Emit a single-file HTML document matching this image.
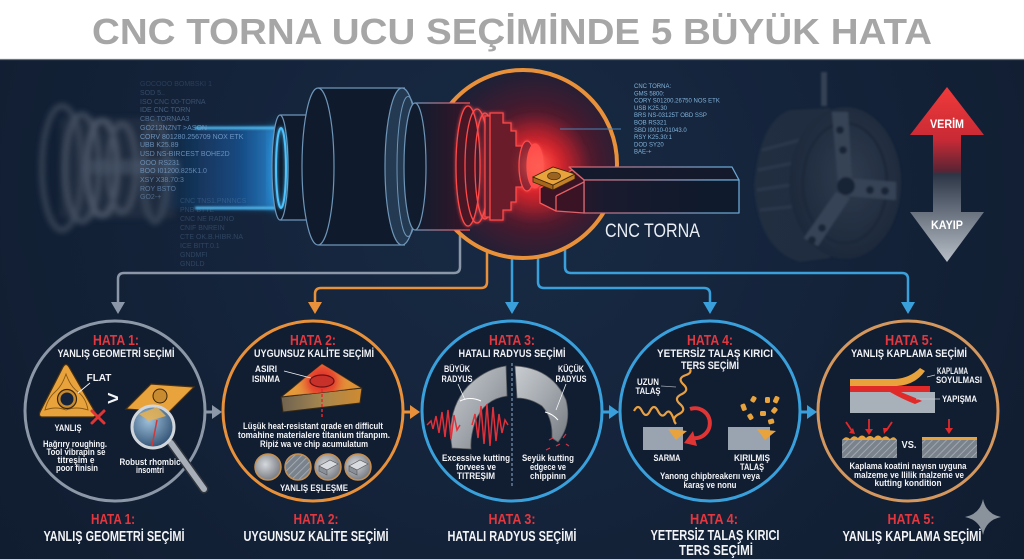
<!DOCTYPE html>
<html><head><meta charset="utf-8">
<style>
html,body{margin:0;padding:0;background:#fff;}
svg{display:block}
text{font-family:"Liberation Sans","DejaVu Sans",sans-serif;}
.b{font-weight:bold}
.m{font-family:"Liberation Mono","DejaVu Sans Mono",monospace;}
</style></head><body>
<svg width="1024" height="559" viewBox="0 0 1024 559" xmlns="http://www.w3.org/2000/svg">
<defs>
 <radialGradient id="bg" cx="512" cy="200" r="650" gradientUnits="userSpaceOnUse">
  <stop offset="0" stop-color="#182a44"/><stop offset="1" stop-color="#101c2f"/>
 </radialGradient>
 <radialGradient id="mainC" cx="535" cy="168" r="100" gradientUnits="userSpaceOnUse">
  <stop offset="0" stop-color="#ff3535"/><stop offset="0.22" stop-color="#b8202e"/>
  <stop offset="0.55" stop-color="#4c1a2e"/><stop offset="1" stop-color="#1d2036"/>
 </radialGradient>
 <filter id="bl1" x="-20%" y="-20%" width="140%" height="140%"><feGaussianBlur stdDeviation="1"/></filter>
 <filter id="bl3" x="-30%" y="-30%" width="160%" height="160%"><feGaussianBlur stdDeviation="3"/></filter>
 <filter id="bl8" x="-50%" y="-50%" width="200%" height="200%"><feGaussianBlur stdDeviation="8"/></filter>
 <filter id="bl15" x="-80%" y="-80%" width="260%" height="260%"><feGaussianBlur stdDeviation="15"/></filter>
 <filter id="glow" x="-30%" y="-30%" width="160%" height="160%"><feGaussianBlur stdDeviation="1.6" result="g"/><feMerge><feMergeNode in="g"/><feMergeNode in="SourceGraphic"/></feMerge></filter>
 <linearGradient id="beam" x1="160" y1="0" x2="290" y2="0" gradientUnits="userSpaceOnUse">
  <stop offset="0" stop-color="#1a8cff" stop-opacity="0"/><stop offset="0.6" stop-color="#1a8cff" stop-opacity="0.35"/><stop offset="1" stop-color="#3ab4ff" stop-opacity="0.8"/>
 </linearGradient>
 <linearGradient id="cyl2" x1="415" y1="0" x2="475" y2="0" gradientUnits="userSpaceOnUse">
  <stop offset="0" stop-color="#101c2e"/><stop offset="1" stop-color="#3a1527"/>
 </linearGradient>
 <linearGradient id="cyl2s" x1="415" y1="0" x2="470" y2="0" gradientUnits="userSpaceOnUse">
  <stop offset="0" stop-color="#6e95b8"/><stop offset="1" stop-color="#ff5050"/>
 </linearGradient>
 <linearGradient id="holdS" x1="540" y1="0" x2="720" y2="0" gradientUnits="userSpaceOnUse">
  <stop offset="0" stop-color="#ff5252"/><stop offset="0.35" stop-color="#c07080"/><stop offset="1" stop-color="#6aa6d2"/>
 </linearGradient>
 <linearGradient id="holdF" x1="540" y1="0" x2="700" y2="0" gradientUnits="userSpaceOnUse">
  <stop offset="0" stop-color="#3e1424"/><stop offset="0.4" stop-color="#1a1a2e"/><stop offset="1" stop-color="#0f1a2c"/>
 </linearGradient>
 <linearGradient id="arrowG" x1="0" y1="87" x2="0" y2="262" gradientUnits="userSpaceOnUse">
  <stop offset="0" stop-color="#f03a3a"/><stop offset="0.3" stop-color="#c82a35"/><stop offset="0.48" stop-color="#5a2434"/>
  <stop offset="0.5" stop-color="#2c3646"/><stop offset="1" stop-color="#b8bfc8"/>
 </linearGradient>
 <radialGradient id="chuckG" cx="0.55" cy="0.45" r="0.6">
  <stop offset="0" stop-color="#5b6370"/><stop offset="1" stop-color="#262e3a"/>
 </radialGradient>
 <linearGradient id="triTop" x1="0" y1="0" x2="1" y2="1">
  <stop offset="0" stop-color="#f0a845"/><stop offset="1" stop-color="#d88a30"/>
 </linearGradient>
 <radialGradient id="heat" cx="322" cy="381" r="30" gradientUnits="userSpaceOnUse">
  <stop offset="0" stop-color="#e0202a"/><stop offset="0.45" stop-color="#e65030"/><stop offset="1" stop-color="#e8a040" stop-opacity="0"/>
 </radialGradient>
 <linearGradient id="triFront" x1="281" y1="0" x2="362" y2="0" gradientUnits="userSpaceOnUse">
  <stop offset="0" stop-color="#6e6250"/><stop offset="0.5" stop-color="#a58650"/><stop offset="1" stop-color="#d08a30"/>
 </linearGradient>
 <linearGradient id="metal" x1="0" y1="0" x2="1" y2="1">
  <stop offset="0" stop-color="#c9cdd1"/><stop offset="0.5" stop-color="#a2a7ad"/><stop offset="1" stop-color="#767b82"/>
 </linearGradient>
 <radialGradient id="disc" cx="0.4" cy="0.4" r="0.7">
  <stop offset="0" stop-color="#d5d8dc"/><stop offset="1" stop-color="#6c7178"/>
 </radialGradient>
 <radialGradient id="lens" cx="0.4" cy="0.35" r="0.7">
  <stop offset="0" stop-color="#9ec0dc"/><stop offset="1" stop-color="#2c4d6e"/>
 </radialGradient>
 <pattern id="hatch" width="5" height="5" patternUnits="userSpaceOnUse" patternTransform="rotate(45)">
  <rect width="5" height="5" fill="#7a828c"/><line x1="0" y1="0" x2="0" y2="5" stroke="#aab1b9" stroke-width="1.6"/>
 </pattern>
</defs>

<rect x="0" y="0" width="1024" height="60" fill="#ffffff"/>
<text x="512" y="44" text-anchor="middle" class="b" font-size="36" fill="#a6a6a6" textLength="840" lengthAdjust="spacingAndGlyphs">CNC TORNA UCU SEÇİMİNDE 5 BÜYÜK HATA</text>
<rect x="0" y="59" width="1024" height="500" fill="url(#bg)"/>
<line x1="0" y1="59.5" x2="1024" y2="59.5" stroke="#6c7480" stroke-width="1.2"/>

<g filter="url(#bl3)" opacity="0.7">
 <rect x="60" y="118" width="115" height="100" fill="#263244"/>
 <ellipse cx="62" cy="168" rx="20" ry="62" fill="none" stroke="#4c5768" stroke-width="5"/>
 <ellipse cx="82" cy="168" rx="17" ry="54" fill="none" stroke="#5c6778" stroke-width="4"/>
 <ellipse cx="102" cy="168" rx="15" ry="48" fill="none" stroke="#6a7586" stroke-width="4"/>
 <ellipse cx="122" cy="168" rx="14" ry="44" fill="none" stroke="#5a6576" stroke-width="4"/>
 <ellipse cx="155" cy="172" rx="12" ry="50" fill="none" stroke="#4a5566" stroke-width="5"/>
 <rect x="90" y="160" width="90" height="14" fill="#5f6b7d" opacity="0.6"/>
</g>

<rect x="160" y="127" width="128" height="82" fill="url(#beam)" filter="url(#bl3)"/>
<g filter="url(#bl1)">
 <line x1="195" y1="128" x2="286" y2="128" stroke="#55c8ff" stroke-width="2.5"/>
 <line x1="195" y1="208" x2="286" y2="208" stroke="#55c8ff" stroke-width="2.5"/>
</g>
<ellipse cx="282" cy="168" rx="8" ry="42" fill="#2fb0ff" filter="url(#bl8)" opacity="0.9"/>

<g class="m" font-size="7" fill="#7aa3cf">
 <text x="140" y="86" opacity="0.2">GOCOOO BOMBSKI 1</text>
 <text x="140" y="95" opacity="0.3">SOD 5..</text>
 <text x="140" y="104" opacity="0.35">ISO CNC 00-TORNA</text>
 <text x="140" y="112" opacity="0.45">IDE CNC TORN</text>
 <text x="140" y="121" opacity="0.55">CBC TORNAA3</text>
 <text x="140" y="130" opacity="0.75">GO212NZNT &gt;ASON</text>
 <text x="140" y="139" opacity="0.85">CORV 801280.256709 NOX ETK</text>
 <text x="140" y="147" opacity="0.8">UBB K25.89</text>
 <text x="140" y="156" opacity="0.8">USD NS-BIRCEST BOHE2D</text>
 <text x="140" y="165" opacity="0.75">OOO RS231</text>
 <text x="140" y="173" opacity="0.75">BOO I01200.825K1.0</text>
 <text x="140" y="182" opacity="0.7">XSY X38.70:3</text>
 <text x="140" y="191" opacity="0.6">ROY BSTO</text>
 <text x="140" y="199" opacity="0.5">GO2-+</text>
</g>
<g class="m" font-size="7" fill="#6a90bb" opacity="0.3">
 <text x="180" y="203">CNC TNS1.PNNNCS</text>
 <text x="180" y="212">PNB BTTE</text>
 <text x="180" y="221">CNC NE RADNO</text>
 <text x="180" y="230">CNIF BNREIN</text>
 <text x="180" y="239">CTE OK.B.HIBR.NA</text>
 <text x="180" y="248">ICE BITT.0.1</text>
 <text x="180" y="257">GNDMFI</text>
 <text x="180" y="266">GNDLD</text>
</g>

<g fill="none" stroke-width="2.5">
 <path d="M460,220 V267 Q460,273 454,273 H124 Q118,273 118,279 V304" stroke="#8b97a8"/>
 <path d="M487,220 V282 Q487,288 481,288 H321 Q315,288 315,294 V304" stroke="#e8913a"/>
 <path d="M512,220 V304" stroke="#3aa0dc"/>
 <path d="M538,220 V282 Q538,288 544,288 H704 Q710,288 710,294 V304" stroke="#3aa0dc"/>
 <path d="M565,220 V267 Q565,273 571,273 H902 Q908,273 908,279 V304" stroke="#3aa0dc"/>
</g>
<polygon points="111,302 125,302 118,314" fill="#8b97a8"/>
<polygon points="308,302 322,302 315,314" fill="#e8913a"/>
<polygon points="505,302 519,302 512,314" fill="#3aa0dc"/>
<polygon points="703,302 717,302 710,314" fill="#3aa0dc"/>
<polygon points="901,302 915,302 908,314" fill="#3aa0dc"/>

<circle cx="523" cy="164" r="94" fill="url(#mainC)" stroke="#e8913a" stroke-width="4"/>
<circle cx="535" cy="168" r="38" fill="#ff2a2a" opacity="0.6" filter="url(#bl15)"/>

<rect x="280" y="115" width="26" height="105" fill="#0f1b2d"/>
<line x1="280" y1="115" x2="306" y2="115" stroke="#6e95b8" stroke-width="1.2"/>
<line x1="280" y1="220" x2="306" y2="220" stroke="#6e95b8" stroke-width="1.2"/>
<ellipse cx="280" cy="167.5" rx="8" ry="52.5" fill="#0f1b2d" stroke="#6e95b8" stroke-width="1.2"/>
<ellipse cx="281" cy="168" rx="5" ry="40" fill="none" stroke="#4ec4ff" stroke-width="2" filter="url(#glow)"/>
<rect x="318" y="88" width="87" height="157" fill="#0f1b2d"/>
<line x1="318" y1="88" x2="405" y2="88" stroke="#6e95b8" stroke-width="1.2"/>
<line x1="318" y1="245" x2="405" y2="245" stroke="#6e95b8" stroke-width="1.2"/>
<ellipse cx="318" cy="166.5" rx="16" ry="78.5" fill="#0f1b2d" stroke="#6e95b8" stroke-width="1.2"/>
<ellipse cx="402" cy="166.5" rx="17" ry="78.5" fill="#233a52" stroke="#6e95b8" stroke-width="1.2"/>
<ellipse cx="408" cy="166.5" rx="11" ry="70" fill="none" stroke="#6e95b8" stroke-width="1"/>
<rect x="415" y="103" width="55" height="127" fill="url(#cyl2)"/>
<line x1="415" y1="103" x2="470" y2="103" stroke="url(#cyl2s)" stroke-width="1.2"/>
<line x1="415" y1="230" x2="470" y2="230" stroke="url(#cyl2s)" stroke-width="1.2"/>
<ellipse cx="415" cy="166.5" rx="11" ry="63.5" fill="#101c2e" stroke="#6e95b8" stroke-width="1.2"/>

<g fill="none" stroke="#ff4a4a" stroke-width="1.3" filter="url(#glow)">
 <ellipse cx="468" cy="166" rx="12" ry="60" fill="#4a1626"/>
 <ellipse cx="477" cy="166" rx="12" ry="57"/>
 <ellipse cx="485" cy="166" rx="10" ry="53"/>
 <path d="M485,116 H498 V126 H506 V134 H511 V149 H517 V184 H511 V199 H506 V207 H498 V217 H485 Z" fill="#5a1a28" opacity="0.9"/>
 <path d="M490,113 H503 V123 H511 V131 H516 V146 H522 V187 H516 V202 H511 V210 H503 V220 H490 Z" fill="#6a1c2a"/>
 <ellipse cx="527" cy="166" rx="8" ry="25" fill="#8a2030"/>
 <ellipse cx="535" cy="166" rx="8" ry="22" fill="#ff4a4a"/>
</g>
<circle cx="538" cy="166" r="14" fill="#ff6a5a" opacity="0.7" filter="url(#bl8)"/>

<g stroke="url(#holdS)" stroke-width="1.3" stroke-linejoin="round">
 <polygon points="569,167 732,167 739,180 584,180" fill="#141a2c"/>
 <polygon points="584,180 739,180 739,213 584,213" fill="url(#holdF)"/>
 <polygon points="540,188 572,170 584,180 584,213 556,211 540,203" fill="#3a1424"/>
 <line x1="556" y1="196" x2="556" y2="211"/>
 <line x1="556" y1="196" x2="584" y2="182"/>
</g>
<polygon points="533,177 533,182 553,190 553,185" fill="#a8661c" stroke="#3a2508" stroke-width="0.8"/>
<polygon points="553,185 553,190 575,179 575,174" fill="#c27e28" stroke="#3a2508" stroke-width="0.8"/>
<polygon points="533,177 553,167 575,174 553,185" fill="#e8a33c" stroke="#3a2508" stroke-width="0.9"/>
<ellipse cx="554" cy="176" rx="6.5" ry="3.8" fill="#9a6420" stroke="#4a3010" stroke-width="0.7"/>

<line x1="621" y1="83" x2="621" y2="155" stroke="#3fb4ff" stroke-width="1.5" filter="url(#glow)"/>
<line x1="560" y1="129" x2="621" y2="129" stroke="#4a84b8" stroke-width="1.2" opacity="0.8"/>
<g class="m" font-size="6" fill="#82b4dc">
 <text x="634" y="88">CNC TORNA:</text>
 <text x="634" y="95.3">GMS 5800:</text>
 <text x="634" y="102.6">CORY S01200.26750 NOS ETK</text>
 <text x="634" y="109.9">USB K25.30</text>
 <text x="634" y="117.2">BRS NS-03125T OBD SSP</text>
 <text x="634" y="124.5">BOB RS321</text>
 <text x="634" y="131.8">SBD I9010-01043.0</text>
 <text x="634" y="139.1">RSY K25.30:1</text>
 <text x="634" y="146.4">DOD SY20</text>
 <text x="634" y="153.7">BAE-+</text>
</g>
<text x="605" y="237" font-size="19" fill="#e9eef4" textLength="95" lengthAdjust="spacingAndGlyphs">CNC TORNA</text>

<g opacity="0.38" filter="url(#bl1)">
 <rect x="821" y="72" width="6" height="34" fill="#6a7380"/>
 <path d="M790,110 Q760,120 754,185 Q758,250 800,262 L830,258 L830,108 Z" fill="#343d4a"/>
 <g stroke="#56606e" stroke-width="3" opacity="0.8">
  <line x1="762" y1="150" x2="800" y2="140"/><line x1="758" y1="170" x2="798" y2="162"/>
  <line x1="757" y1="190" x2="797" y2="184"/><line x1="760" y1="210" x2="798" y2="206"/>
 </g>
 <ellipse cx="845" cy="183" rx="56" ry="76" fill="url(#chuckG)"/>
 <ellipse cx="845" cy="183" rx="42" ry="60" fill="none" stroke="#2a323d" stroke-width="3"/>
 <polygon points="832,112 848,112 852,180 838,182" fill="#6e7784"/>
 <polygon points="848,178 896,182 896,200 846,196" fill="#6e7784"/>
 <polygon points="836,192 850,198 818,246 804,238" fill="#6e7784"/>
 <circle cx="840" cy="130" r="4" fill="#222a34"/><circle cx="843" cy="150" r="4" fill="#222a34"/>
 <circle cx="870" cy="190" r="4" fill="#222a34"/><circle cx="885" cy="191" r="4" fill="#222a34"/>
 <circle cx="822" cy="228" r="4" fill="#222a34"/><circle cx="812" cy="240" r="4" fill="#222a34"/>
 <circle cx="846" cy="186" r="9" fill="#1e2630"/>
</g>

<polygon points="947,87 984,135 961,135 961,212 984,212 947,262 910,212 933,212 933,135 910,135" fill="url(#arrowG)"/>
<text x="947" y="128" text-anchor="middle" class="b" font-size="12" fill="#ffffff" textLength="34" lengthAdjust="spacingAndGlyphs">VERİM</text>
<text x="947" y="229" text-anchor="middle" class="b" font-size="12" fill="#ffffff" textLength="32" lengthAdjust="spacingAndGlyphs">KAYIP</text>

<g stroke-width="3" fill="#111d31">
 <circle cx="115" cy="411" r="90" stroke="#8c98a8"/>
 <circle cx="313" cy="411" r="90" stroke="#e8913a"/>
 <circle cx="512" cy="411" r="90" stroke="#3aa0dc"/>
 <circle cx="710" cy="411" r="90" stroke="#3aa0dc"/>
 <circle cx="908" cy="411" r="90" stroke="#d4975e"/>
</g>
<g stroke-width="3">
 <line x1="205" y1="412" x2="213" y2="412" stroke="#8c98a8"/>
 <line x1="403" y1="412" x2="411" y2="412" stroke="#e8913a"/>
 <line x1="602" y1="412" x2="610" y2="412" stroke="#3aa0dc"/>
 <line x1="800" y1="412" x2="808" y2="412" stroke="#3aa0dc"/>
</g>
<polygon points="212,405 222,412 212,419" fill="#8c98a8"/>
<polygon points="410,405 420,412 410,419" fill="#e8913a"/>
<polygon points="609,405 619,412 609,419" fill="#3aa0dc"/>
<polygon points="807,405 817,412 807,419" fill="#3aa0dc"/>

<g class="b" text-anchor="middle">
 <text x="116" y="345" font-size="15" fill="#e2373f" textLength="46" lengthAdjust="spacingAndGlyphs">HATA 1:</text>
 <text x="116" y="357" font-size="11" fill="#f2f4f7" textLength="117" lengthAdjust="spacingAndGlyphs">YANLIŞ GEOMETRİ SEÇİMİ</text>
 <text x="313" y="345" font-size="15" fill="#e2373f" textLength="46" lengthAdjust="spacingAndGlyphs">HATA 2:</text>
 <text x="314" y="357" font-size="11" fill="#f2f4f7" textLength="120" lengthAdjust="spacingAndGlyphs">UYGUNSUZ KALİTE SEÇİMİ</text>
 <text x="512" y="345" font-size="15" fill="#e2373f" textLength="46" lengthAdjust="spacingAndGlyphs">HATA 3:</text>
 <text x="512" y="357" font-size="11" fill="#f2f4f7" textLength="107" lengthAdjust="spacingAndGlyphs">HATALI RADYUS SEÇİMİ</text>
 <text x="710" y="345" font-size="15" fill="#e2373f" textLength="46" lengthAdjust="spacingAndGlyphs">HATA 4:</text>
 <text x="715" y="357" font-size="11" fill="#f2f4f7" textLength="116" lengthAdjust="spacingAndGlyphs">YETERSİZ TALAŞ KIRICI</text>
 <text x="710" y="369" font-size="11" fill="#f2f4f7" textLength="58" lengthAdjust="spacingAndGlyphs">TERS SEÇİMİ</text>
 <text x="909" y="345" font-size="15" fill="#e2373f" textLength="48" lengthAdjust="spacingAndGlyphs">HATA 5:</text>
 <text x="909" y="357" font-size="11" fill="#f2f4f7" textLength="116" lengthAdjust="spacingAndGlyphs">YANLIŞ KAPLAMA SEÇİMİ</text>
</g>

<path d="M63,367 Q66,362 69,367 L95,412 Q97,417 92,417 L43,417 Q38,417 40,412 Z" fill="#e8a33c" stroke="#4a3010" stroke-width="1.2"/>
<path d="M66,374 Q70,386 78,392 Q86,398 88,410 Q76,406 66,410 Q56,406 45,410 Q48,398 55,392 Q62,386 66,374 Z" fill="none" stroke="#8a5a18" stroke-width="0.9"/>
<circle cx="67" cy="399" r="9.5" fill="#c98b30" stroke="#3a2508" stroke-width="1.2"/>
<circle cx="67" cy="399" r="6.5" fill="#15233a"/>
<line x1="90" y1="383" x2="78" y2="393" stroke="#f2f4f7" stroke-width="0.9"/>
<text x="99" y="381" text-anchor="middle" class="b" font-size="10" fill="#f2f4f7">FLAT</text>
<g stroke="#e03535" stroke-width="3" stroke-linecap="round"><line x1="92" y1="411" x2="104" y2="423"/><line x1="104" y1="411" x2="92" y2="423"/></g>
<text x="113" y="405" text-anchor="middle" class="b" font-size="20" fill="#f2f4f7">&gt;</text>
<polygon points="126,409 151,384 194,387 169,412" fill="#e8a33c" stroke="#4a3010" stroke-width="1.2"/>
<circle cx="160" cy="396" r="7" fill="#c98b30" stroke="#3a2508" stroke-width="1"/>
<line x1="171" y1="443" x2="204" y2="489" stroke="#30363e" stroke-width="9" stroke-linecap="round"/>
<line x1="171" y1="443" x2="204" y2="489" stroke="#a8afb8" stroke-width="6" stroke-linecap="round"/>
<circle cx="153" cy="427" r="21" fill="url(#lens)" stroke="#d0d6dc" stroke-width="3"/>
<polygon points="139,414 157,407 166,416 149,421" fill="#e8b050" opacity="0.85"/>
<line x1="157" y1="420" x2="152" y2="446" stroke="#d03838" stroke-width="1.5"/>
<g class="b" text-anchor="middle" font-size="9" fill="#f2f4f7">
 <text x="68" y="431" textLength="27" lengthAdjust="spacingAndGlyphs">YANLIŞ</text>
 <text x="75" y="447" textLength="64" lengthAdjust="spacingAndGlyphs">Hağrıry roughing.</text>
 <text x="76" y="455" textLength="59" lengthAdjust="spacingAndGlyphs">Tool vibrapin se</text>
 <text x="76" y="463" textLength="37" lengthAdjust="spacingAndGlyphs">titreşim e</text>
 <text x="77" y="471" textLength="42" lengthAdjust="spacingAndGlyphs">poor finisin</text>
 <text x="150" y="465" textLength="61" lengthAdjust="spacingAndGlyphs">Robust rhombic</text>
 <text x="150" y="473" textLength="28" lengthAdjust="spacingAndGlyphs">insomtri</text>
</g>

<polygon points="281,397 362,388 360,403 283,412" fill="url(#triFront)" stroke="#3a2a12" stroke-width="1"/>
<polygon points="322,364 281,397 362,388" fill="url(#triTop)" stroke="#3a2a12" stroke-width="1" stroke-linejoin="round"/>
<polygon points="322,364 281,397 362,388" fill="url(#heat)"/>
<ellipse cx="322" cy="381" rx="12" ry="6" fill="#c8302a" stroke="#6a1010" stroke-width="1.2"/>
<line x1="322" y1="389" x2="322" y2="419" stroke="#e02a2a" stroke-width="1.5" stroke-dasharray="3,2"/>
<line x1="284" y1="371" x2="311" y2="378" stroke="#f2f4f7" stroke-width="0.9"/>
<g class="b" text-anchor="middle" font-size="9" fill="#f2f4f7">
 <text x="266" y="372" textLength="22" lengthAdjust="spacingAndGlyphs">ASIRI</text>
 <text x="266" y="382" textLength="28" lengthAdjust="spacingAndGlyphs">ISINMA</text>
 <text x="313" y="429" textLength="140" lengthAdjust="spacingAndGlyphs">Lüşük heat-resistant qrade en difficult</text>
 <text x="314" y="438" textLength="152" lengthAdjust="spacingAndGlyphs">tomahine materialere titanium tifanpım.</text>
 <text x="314" y="447" textLength="108" lengthAdjust="spacingAndGlyphs">Ripiź wa ve chip acumulatum</text>
 <text x="314" y="491" textLength="68" lengthAdjust="spacingAndGlyphs">YANLIŞ EŞLEŞME</text>
</g>
<circle cx="268" cy="467" r="13" fill="url(#disc)" stroke="#c89050" stroke-width="1.5"/>
<circle cx="298" cy="467" r="13" fill="url(#hatch)" stroke="#c89050" stroke-width="1.5"/>
<circle cx="328" cy="467" r="13" fill="url(#disc)" stroke="#c89050" stroke-width="1.5"/>
<polygon points="319,466 330,460 338,464 327,470" fill="#d8dbdf" stroke="#555" stroke-width="0.6"/>
<polygon points="319,466 327,470 327,475 319,471" fill="#8a9098" stroke="#555" stroke-width="0.6"/>
<circle cx="358" cy="467" r="13" fill="url(#disc)" stroke="#c89050" stroke-width="1.5"/>
<polygon points="349,466 360,460 368,464 357,470" fill="#d8dbdf" stroke="#555" stroke-width="0.6"/>
<polygon points="349,466 357,470 357,475 349,471" fill="#8a9098" stroke="#555" stroke-width="0.6"/>

<line x1="512" y1="363" x2="512" y2="488" stroke="#8fb0d0" stroke-width="1" stroke-dasharray="3,2"/>
<path d="M506,366 L507,396 Q484,399 475,422 Q470,438 471,449 L452,448 Q446,410 468,386 Q485,369 506,366 Z" fill="url(#metal)" stroke="#5a5e62" stroke-width="0.8"/>
<path d="M515,366 Q552,368 566,400 Q572,424 558,442 L552,438 Q553,418 542,406 Q530,398 517,398 Z" fill="url(#metal)" stroke="#5a5e62" stroke-width="0.8"/>
<path d="M460,401 Q470,396 481,401" fill="none" stroke="#ffffff" stroke-width="1"/>
<path d="M545,412 Q553,414 558,420" fill="none" stroke="#ffffff" stroke-width="1"/>
<line x1="458" y1="384" x2="465" y2="400" stroke="#f2f4f7" stroke-width="0.8"/>
<line x1="566" y1="384" x2="556" y2="410" stroke="#f2f4f7" stroke-width="0.8"/>
<polyline points="427,425 431,421 433,429 436,416 439,433 442,412 445,437 448,410 451,439 454,415 457,430 460,425" fill="none" stroke="#e0303a" stroke-width="1.5"/>
<polyline points="472,425 475,414 478,438 481,406 484,444 487,404 490,446 493,407 496,441 499,414 502,433 505,420 508,425" fill="none" stroke="#e0303a" stroke-width="1.5"/>
<g stroke="#d83040" stroke-width="1.2">
 <line x1="549" y1="440" x2="553" y2="438"/><line x1="556" y1="446" x2="560" y2="444"/>
 <line x1="563" y1="438" x2="566" y2="434"/><line x1="550" y1="448" x2="546" y2="450"/>
 <line x1="566" y1="444" x2="569" y2="446"/>
</g>
<g class="b" text-anchor="middle" font-size="9" fill="#f2f4f7">
 <text x="457" y="372" textLength="26" lengthAdjust="spacingAndGlyphs">BÜYÜK</text>
 <text x="457" y="382" textLength="31" lengthAdjust="spacingAndGlyphs">RADYUS</text>
 <text x="571" y="372" textLength="26" lengthAdjust="spacingAndGlyphs">KÜÇÜK</text>
 <text x="571" y="382" textLength="31" lengthAdjust="spacingAndGlyphs">RADYUS</text>
 <text x="476" y="461" textLength="68" lengthAdjust="spacingAndGlyphs">Excessive kutting</text>
 <text x="476" y="470" textLength="40" lengthAdjust="spacingAndGlyphs">forvees ve</text>
 <text x="476" y="479" textLength="38" lengthAdjust="spacingAndGlyphs">TITREŞIM</text>
 <text x="548" y="461" textLength="52" lengthAdjust="spacingAndGlyphs">Seyük kutting</text>
 <text x="548" y="470" textLength="36" lengthAdjust="spacingAndGlyphs">edgece ve</text>
 <text x="548" y="479" textLength="36" lengthAdjust="spacingAndGlyphs">chippinın</text>
</g>

<path d="M676,424 Q671,418 679,414 Q687,410 680,404 Q673,398 682,394 Q690,390 683,384 Q677,378 686,375 Q692,373 690,369" fill="none" stroke="#e8a040" stroke-width="2.2"/>
<path d="M634,411 Q638,403 642,411 Q646,419 650,411 Q654,403 658,411 Q662,419 666,413 Q670,408 674,420" fill="none" stroke="#e8a040" stroke-width="2.2"/>
<line x1="661" y1="386" x2="676" y2="387" stroke="#a0a8b2" stroke-width="0.8"/>
<rect x="643" y="427" width="40" height="23" fill="#9aa4b0"/>
<polygon points="668,429 687,431 676,440" fill="#e8a33c"/>
<path d="M690,409 A15,15 0 1,1 689,437" fill="none" stroke="#e03535" stroke-width="4"/>
<polygon points="693,431 684,443 697,446" fill="#e03535"/>
<rect x="728" y="427" width="42" height="23" fill="#9aa4b0"/>
<polygon points="757,429 776,431 765,440" fill="#e8a33c"/>
<g fill="#e8a33c">
 <rect x="741" y="404" width="5" height="7" rx="1.5" transform="rotate(-20 743 407)"/>
 <rect x="751" y="396" width="5" height="6" rx="1.5" transform="rotate(30 753 399)"/>
 <rect x="765" y="397" width="5" height="6" rx="1.5"/>
 <rect x="774" y="396" width="5" height="7" rx="1.5" transform="rotate(25 776 399)"/>
 <rect x="748" y="414" width="5" height="6" rx="1.5" transform="rotate(-30 750 417)"/>
 <rect x="760" y="411" width="6" height="5" rx="1.5"/>
 <rect x="772" y="407" width="5" height="6" rx="1.5" transform="rotate(40 774 410)"/>
 <rect x="768" y="419" width="6" height="5" rx="1.5" transform="rotate(-15 771 421)"/>
</g>
<g class="b" text-anchor="middle" font-size="9" fill="#f2f4f7">
 <text x="648" y="385" textLength="22" lengthAdjust="spacingAndGlyphs">UZUN</text>
 <text x="648" y="394" textLength="25" lengthAdjust="spacingAndGlyphs">TALAŞ</text>
 <text x="667" y="461" textLength="27" lengthAdjust="spacingAndGlyphs">SARMA</text>
 <text x="752" y="461" textLength="36" lengthAdjust="spacingAndGlyphs">KIRILMIŞ</text>
 <text x="752" y="470" textLength="24" lengthAdjust="spacingAndGlyphs">TALAŞ</text>
 <text x="710" y="479" textLength="100" lengthAdjust="spacingAndGlyphs">Yanong chipbreakerıı veya</text>
 <text x="710" y="488" textLength="53" lengthAdjust="spacingAndGlyphs">karaş ve nonu</text>
</g>

<rect x="850" y="392" width="85" height="21" fill="#a8b0ba"/>
<rect x="850" y="386" width="80" height="6" fill="#e02a2a"/>
<path d="M892,388 Q905,394 918,399 L922,401 L915,404 Q902,399 890,392 Z" fill="#e02a2a"/>
<path d="M850,379 H895 Q910,378 920,368 L925,371 Q915,385 897,386 H850 Z" fill="#e8a33c"/>
<line x1="927" y1="377" x2="935" y2="375" stroke="#c8ced6" stroke-width="0.8"/>
<line x1="916" y1="399" x2="940" y2="399" stroke="#c8ced6" stroke-width="0.8"/>
<rect x="842" y="440" width="55" height="18" fill="url(#hatch)"/>
<path d="M842,440 Q846,435 850,439 Q854,434 858,438 Q862,433 866,438 Q870,434 874,438 Q878,433 882,438 Q886,434 890,439 Q894,435 897,440 Z" fill="#e8a33c"/>
<rect x="922" y="440" width="55" height="18" fill="url(#hatch)"/>
<rect x="922" y="437" width="55" height="3" fill="#e8a33c"/>
<g stroke="#e02a2a" stroke-width="1.8" fill="#e02a2a">
 <line x1="846" y1="422" x2="852" y2="431"/><polygon points="849,433 855,434 853,428" stroke="none"/>
 <line x1="869" y1="419" x2="869" y2="430"/><polygon points="865,429 873,429 869,435" stroke="none"/>
 <line x1="892" y1="422" x2="886" y2="431"/><polygon points="883,428 889,428 884,434" stroke="none"/>
 <line x1="949" y1="419" x2="949" y2="429"/><polygon points="945,428 953,428 949,434" stroke="none"/>
</g>
<g class="b" font-size="9" fill="#f2f4f7">
 <text x="937" y="374" textLength="31" lengthAdjust="spacingAndGlyphs">KAPLAMA</text>
 <text x="936" y="383" textLength="46" lengthAdjust="spacingAndGlyphs">SOYULMASI</text>
 <text x="942" y="402" textLength="35" lengthAdjust="spacingAndGlyphs">YAPIŞMA</text>
 <text x="909" y="448" text-anchor="middle" font-size="10" textLength="15" lengthAdjust="spacingAndGlyphs">VS.</text>
 <text x="908" y="469" text-anchor="middle" textLength="117" lengthAdjust="spacingAndGlyphs">Kaplama koatini nayısn uyguna</text>
 <text x="909" y="478" text-anchor="middle" textLength="110" lengthAdjust="spacingAndGlyphs">malzeme ve llilik malzeme ve</text>
 <text x="908" y="486" text-anchor="middle" textLength="67" lengthAdjust="spacingAndGlyphs">kutting kondition</text>
</g>

<g class="b" text-anchor="middle" font-size="15">
 <text x="113" y="524" fill="#e2373f" textLength="44" lengthAdjust="spacingAndGlyphs">HATA 1:</text>
 <text x="114" y="541" fill="#f2f4f7" textLength="141" lengthAdjust="spacingAndGlyphs">YANLIŞ GEOMETRİ SEÇİMİ</text>
 <text x="316" y="524" fill="#e2373f" textLength="45" lengthAdjust="spacingAndGlyphs">HATA 2:</text>
 <text x="316" y="541" fill="#f2f4f7" textLength="145" lengthAdjust="spacingAndGlyphs">UYGUNSUZ KALİTE SEÇİMİ</text>
 <text x="512" y="524" fill="#e2373f" textLength="47" lengthAdjust="spacingAndGlyphs">HATA 3:</text>
 <text x="512" y="541" fill="#f2f4f7" textLength="129" lengthAdjust="spacingAndGlyphs">HATALI RADYUS SEÇİMİ</text>
 <text x="714" y="524" fill="#e2373f" textLength="48" lengthAdjust="spacingAndGlyphs">HATA 4:</text>
 <text x="715" y="540" fill="#f2f4f7" textLength="129" lengthAdjust="spacingAndGlyphs">YETERSİZ TALAŞ KIRICI</text>
 <text x="716" y="555" fill="#f2f4f7" textLength="74" lengthAdjust="spacingAndGlyphs">TERS SEÇİMİ</text>
 <text x="911" y="524" fill="#e2373f" textLength="47" lengthAdjust="spacingAndGlyphs">HATA 5:</text>
 <text x="912" y="541" fill="#f2f4f7" textLength="139" lengthAdjust="spacingAndGlyphs">YANLIŞ KAPLAMA SEÇİMİ</text>
</g>
<path d="M983,499 Q986,514 1001,517 Q986,520 983,535 Q980,520 965,517 Q980,514 983,499 Z" fill="#8a929c"/>
</svg>
</body></html>
